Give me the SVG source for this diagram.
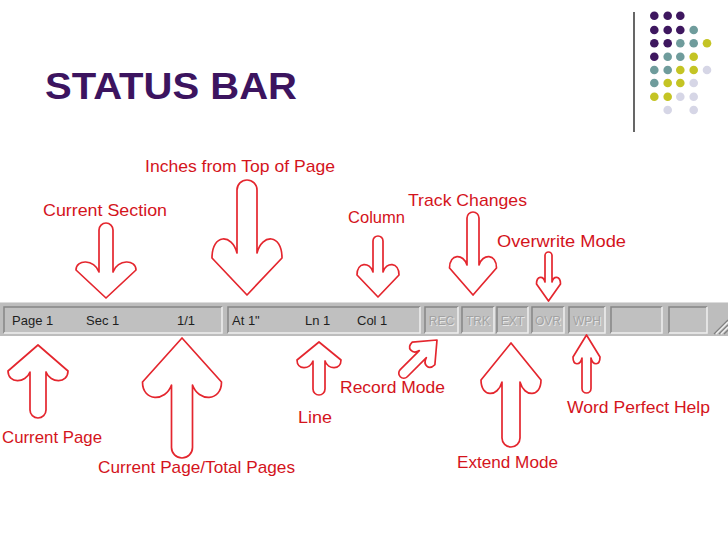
<svg xmlns="http://www.w3.org/2000/svg" width="728" height="546" viewBox="0 0 728 546">
<style>
.lbl{font-family:"Liberation Sans",Arial,sans-serif;font-size:17px;fill:#d4141c}
.arr{fill:#fff;stroke:#e4262e;stroke-width:1.7;stroke-linejoin:round}
.bt{font-family:"Liberation Sans",Arial,sans-serif;font-size:13px;fill:#1e1e1e}
.dis{font-family:"Liberation Sans",Arial,sans-serif;font-size:12px;fill:#a2a2a2;text-anchor:middle}
.dsh{font-family:"Liberation Sans",Arial,sans-serif;font-size:12px;fill:#e6e6e6;text-anchor:middle}
.pan{fill:#c0c0c0}
.dk{fill:none;stroke:#858585;stroke-width:1.5}
.lt{fill:none;stroke:#efefef;stroke-width:1.5}
.pp{fill:#3e175f}.tl{fill:#6f9c9c}.yg{fill:#c4c424}.lv{fill:#d6d6e6}
</style>
<rect width="728" height="546" fill="#fff"/>
<g id="decor">
<line x1="634" y1="12" x2="634" y2="132" stroke="#000" stroke-width="1.2"/>
<circle class="pp" cx="654.3" cy="15.7" r="4.3"/><circle class="pp" cx="667.7" cy="15.7" r="4.3"/><circle class="pp" cx="680.3" cy="15.7" r="4.3"/>
<circle class="pp" cx="654.3" cy="30" r="4.3"/><circle class="pp" cx="667.7" cy="30" r="4.3"/><circle class="pp" cx="680.3" cy="30" r="4.3"/><circle class="tl" cx="693.7" cy="30" r="4.3"/>
<circle class="pp" cx="654.3" cy="43.3" r="4.3"/><circle class="pp" cx="667.7" cy="43.3" r="4.3"/><circle class="tl" cx="680.3" cy="43.3" r="4.3"/><circle class="tl" cx="693.7" cy="43.3" r="4.3"/><circle class="yg" cx="707" cy="43.3" r="4.3"/>
<circle class="pp" cx="654.3" cy="56.7" r="4.3"/><circle class="tl" cx="667.7" cy="56.7" r="4.3"/><circle class="tl" cx="680.3" cy="56.7" r="4.3"/><circle class="yg" cx="693.7" cy="56.7" r="4.3"/>
<circle class="tl" cx="654.3" cy="70" r="4.3"/><circle class="tl" cx="667.7" cy="70" r="4.3"/><circle class="yg" cx="680.3" cy="70" r="4.3"/><circle class="yg" cx="693.7" cy="70" r="4.3"/><circle class="lv" cx="707" cy="70" r="4.3"/>
<circle class="tl" cx="654.3" cy="83" r="4.3"/><circle class="yg" cx="667.7" cy="83" r="4.3"/><circle class="yg" cx="680.3" cy="83" r="4.3"/><circle class="lv" cx="693.7" cy="83" r="4.3"/>
<circle class="yg" cx="654.3" cy="96.7" r="4.3"/><circle class="yg" cx="667.7" cy="96.7" r="4.3"/><circle class="lv" cx="680.3" cy="96.7" r="4.3"/><circle class="lv" cx="693.7" cy="96.7" r="4.3"/>
<circle class="lv" cx="667.7" cy="110" r="4.3"/><circle class="lv" cx="693.7" cy="110" r="4.3"/>
</g>
<g id="title">
<text x="45" y="99" font-family="'Liberation Sans',Arial,sans-serif" font-size="37" font-weight="bold" fill="#3c145f" textLength="252" lengthAdjust="spacingAndGlyphs">STATUS BAR</text>
</g>
<g id="statusbar">
<rect x="0" y="302" width="728" height="34" fill="#bdbdbd"/>
<line x1="0" y1="302.5" x2="728" y2="302.5" stroke="#dcdcdc" stroke-width="1"/>
<rect class="pan" x="4" y="307" width="218" height="26"/><polyline class="dk" points="4,333 4,307 222,307"/><polyline class="lt" points="222,307 222,333 4,333"/>
<rect class="pan" x="228" y="307" width="192" height="26"/><polyline class="dk" points="228,333 228,307 420,307"/><polyline class="lt" points="420,307 420,333 228,333"/>
<rect class="pan" x="425" y="307" width="33" height="26"/><polyline class="dk" points="425,333 425,307 458,307"/><polyline class="lt" points="458,307 458,333 425,333"/>
<rect class="pan" x="462" y="307" width="32" height="26"/><polyline class="dk" points="462,333 462,307 494,307"/><polyline class="lt" points="494,307 494,333 462,333"/>
<rect class="pan" x="497" y="307" width="31" height="26"/><polyline class="dk" points="497,333 497,307 528,307"/><polyline class="lt" points="528,307 528,333 497,333"/>
<rect class="pan" x="532" y="307" width="32" height="26"/><polyline class="dk" points="532,333 532,307 564,307"/><polyline class="lt" points="564,307 564,333 532,333"/>
<rect class="pan" x="569" y="307" width="36" height="26"/><polyline class="dk" points="569,333 569,307 605,307"/><polyline class="lt" points="605,307 605,333 569,333"/>
<rect class="pan" x="611" y="307" width="51" height="26"/><polyline class="dk" points="611,333 611,307 662,307"/><polyline class="lt" points="662,307 662,333 611,333"/>
<rect class="pan" x="669" y="307" width="38" height="26"/><polyline class="dk" points="669,333 669,307 707,307"/><polyline class="lt" points="707,307 707,333 669,333"/>
<g stroke-width="1.3">
<line x1="714" y1="334" x2="728" y2="320" stroke="#808080"/><line x1="716" y1="334" x2="728" y2="322" stroke="#f0f0f0"/>
<line x1="719" y1="334" x2="728" y2="325" stroke="#808080"/><line x1="721" y1="334" x2="728" y2="327" stroke="#f0f0f0"/>
<line x1="724" y1="334" x2="728" y2="330" stroke="#808080"/>
</g>
<text class="bt" x="12" y="325">Page 1</text>
<text class="bt" x="86" y="325">Sec 1</text>
<text class="bt" x="177" y="325">1/1</text>
<text class="bt" x="232" y="325">At 1"</text>
<text class="bt" x="305" y="325">Ln 1</text>
<text class="bt" x="357" y="325">Col 1</text>
<text class="dsh" x="442.5" y="326">REC</text><text class="dis" x="441.5" y="325">REC</text>
<text class="dsh" x="479" y="326">TRK</text><text class="dis" x="478" y="325">TRK</text>
<text class="dsh" x="513.5" y="326">EXT</text><text class="dis" x="512.5" y="325">EXT</text>
<text class="dsh" x="549" y="326">OVR</text><text class="dis" x="548" y="325">OVR</text>
<text class="dsh" x="588" y="326">WPH</text><text class="dis" x="587" y="325">WPH</text>
</g>
<g id="connectors">
<path class="arr" d="M99,272 C94.4,259 76,259 76,270 L106,298 L136,270 C136,259 117.6,259 113,272 L113,230 A7,7 0 0 0 99,230 Z"/>
<path class="arr" d="M237,253 C232,233.5 212,233.5 212,258 L247,295 L282,258 C282,233.5 262,233.5 257,253 L257,190 A10,10 0 0 0 237,190 Z"/>
<path class="arr" d="M373,272 C369.8,261.6 357,261.6 357,275 L378,297 L399,275 C399,261.6 386.2,261.6 383,272 L383,241 A5,5 0 0 0 373,241 Z"/>
<path class="arr" d="M467,265 C463.5,253.3 449.5,253.3 449.5,268 L473,295 L496.5,268 C496.5,253.3 482.5,253.3 479,265 L479,218 A6,6 0 0 0 467,218 Z"/>
<path class="arr" d="M545,282 C543.3,275.5 536.5,275.5 536.5,284 L548.5,301 L560.5,284 C560.5,275.5 553.7,275.5 552,282 L552,255.5 A3.5,3.5 0 0 0 545,255.5 Z"/>
<path class="arr" d="M30,372 C25.6,383.7 8,383.7 8,371 L38,345 L68,371 C68,383.7 50.4,383.7 46,372 L46,410 A8,8 0 0 1 30,410 Z"/>
<path class="arr" d="M171.5,385 C165.7,401.9 142.5,401.9 142.5,382 L182,338 L221.5,382 C221.5,401.9 198.3,401.9 192.5,385 L192.5,447.5 A10.5,10.5 0 0 1 171.5,447.5 Z"/>
<path class="arr" d="M313,361 C309.8,370.1 297,370.1 297,360 L319,342 L341,360 C341,370.1 328.2,370.1 325,361 L325,389 A6,6 0 0 1 313,389 Z"/>
<path class="arr" transform="translate(437,340) rotate(45)" d="M-5,20 C-7.2,27.8 -16,27.8 -16,19 L0,0 L16,19 C16,27.8 7.2,27.8 5,20 L5,47 A5,5 0 0 1 -5,47 Z"/>
<path class="arr" d="M502,382 C497.8,397.6 481,397.6 481,380 L511,343 L541,380 C541,397.6 524.2,397.6 520,382 L520,438 A9,9 0 0 1 502,438 Z"/>
<path class="arr" d="M582,358 C580.2,365.8 573,365.8 573,357 L586.5,335 L600,357 C600,365.8 592.8,365.8 591,358 L591,388.5 A4.5,4.5 0 0 1 582,388.5 Z"/>
</g>
<g id="lbl-current-section"><text class="lbl" x="43" y="216" textLength="124" lengthAdjust="spacingAndGlyphs">Current Section</text></g>
<g id="lbl-inches"><text class="lbl" x="145" y="172" textLength="190" lengthAdjust="spacingAndGlyphs">Inches from Top of Page</text></g>
<g id="lbl-column"><text class="lbl" x="348" y="223" textLength="57" lengthAdjust="spacingAndGlyphs">Column</text></g>
<g id="lbl-track"><text class="lbl" x="408" y="206" textLength="119" lengthAdjust="spacingAndGlyphs">Track Changes</text></g>
<g id="lbl-overwrite"><text class="lbl" x="497" y="247" textLength="129" lengthAdjust="spacingAndGlyphs">Overwrite Mode</text></g>
<g id="lbl-current-page"><text class="lbl" x="2" y="443" textLength="100" lengthAdjust="spacingAndGlyphs">Current Page</text></g>
<g id="lbl-total-pages"><text class="lbl" x="98" y="473" textLength="197" lengthAdjust="spacingAndGlyphs">Current Page/Total Pages</text></g>
<g id="lbl-line"><text class="lbl" x="298" y="423" textLength="34" lengthAdjust="spacingAndGlyphs">Line</text></g>
<g id="lbl-record"><text class="lbl" x="340" y="393" textLength="105" lengthAdjust="spacingAndGlyphs">Record Mode</text></g>
<g id="lbl-extend"><text class="lbl" x="457" y="468" textLength="101" lengthAdjust="spacingAndGlyphs">Extend Mode</text></g>
<g id="lbl-wph"><text class="lbl" x="567" y="413" textLength="143" lengthAdjust="spacingAndGlyphs">Word Perfect Help</text></g>
</svg>
